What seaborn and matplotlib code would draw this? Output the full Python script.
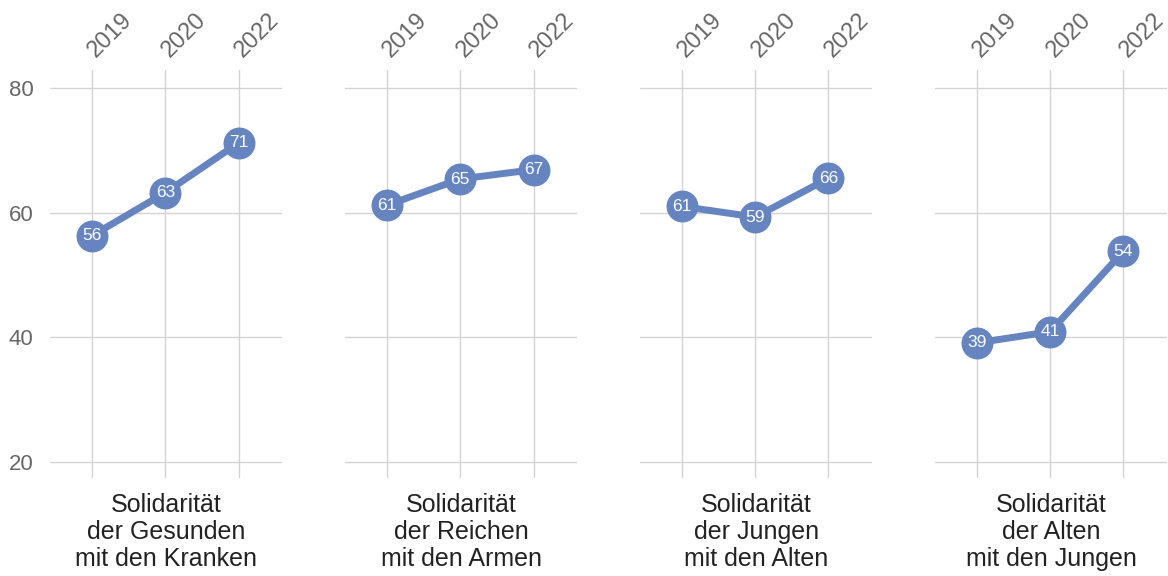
import pandas as pd
import matplotlib
matplotlib.use("Agg")
import matplotlib.pyplot as plt
import seaborn as sns

years = ["2019", "2020", "2022"]
panels = [
    "Solidarität\nder Gesunden\nmit den Kranken",
    "Solidarität\nder Reichen\nmit den Armen",
    "Solidarität\nder Jungen\nmit den Alten",
    "Solidarität\nder Alten\nmit den Jungen",
]
gesunde_kranke = [56.3, 63.2, 71.2]
reiche_arme = [61.2, 65.4, 66.9]
junge_alte = [61.0, 59.3, 65.5]
alte_junge = [39.1, 40.9, 53.8]
all_values = [gesunde_kranke, reiche_arme, junge_alte, alte_junge]
y_ticks = [20, 40, 60, 80]

BLUE = "#6584c0"
GRID = "#d3d3d3"
GRAY = "#666666"

sns.set_theme(style="white")
plt.rcParams["font.family"] = ["Liberation Sans", "DejaVu Sans"]

rows = []
for name, vals in zip(panels, all_values):
    for i, (yr, v) in enumerate(zip(years, vals)):
        rows.append({"panel": name, "year": yr, "pos": i, "value": v})
df = pd.DataFrame(rows)

fig, axes = plt.subplots(1, 4, figsize=(11.68, 5.76), dpi=100, sharey=True)
fig.subplots_adjust(left=0.043, right=0.9995, bottom=0.170, top=0.8785, wspace=0.27)

for ax, name in zip(axes, panels):
    d = df[df["panel"] == name]
    sns.lineplot(data=d, x="pos", y="value", ax=ax, color=BLUE, linewidth=5,
                 marker="o", markersize=23, markeredgewidth=0, zorder=3)
    for _, r in d.iterrows():
        ax.text(r["pos"], r["value"], f"{r['value']:.0f}", color="white",
                ha="center", va="center", fontsize=12.5, zorder=4)

    ax.set_xlim(-0.57, 2.6)
    ax.set_ylim(17.4, 82.9)
    ax.set_yticks(y_ticks)
    ax.set_xticks(range(len(years)))
    ax.xaxis.tick_top()
    ax.set_xticklabels(years, rotation=45, ha="left", va="center",
                       rotation_mode="anchor", color=GRAY, fontsize=17)
    ax.tick_params(axis="x", length=0, pad=12)
    ax.tick_params(axis="y", length=0, pad=12, labelsize=16, labelcolor=GRAY)
    ax.grid(True, color=GRID, linewidth=1)
    ax.set_axisbelow(True)
    for s in ax.spines.values():
        s.set_visible(False)
    ax.set_xlabel(name, fontsize=18, color="#222222", labelpad=11, linespacing=1.15)
    ax.set_ylabel("")

for ax in axes[1:]:
    ax.tick_params(axis="y", labelleft=False)

fig.savefig("out.png", dpi=100)
